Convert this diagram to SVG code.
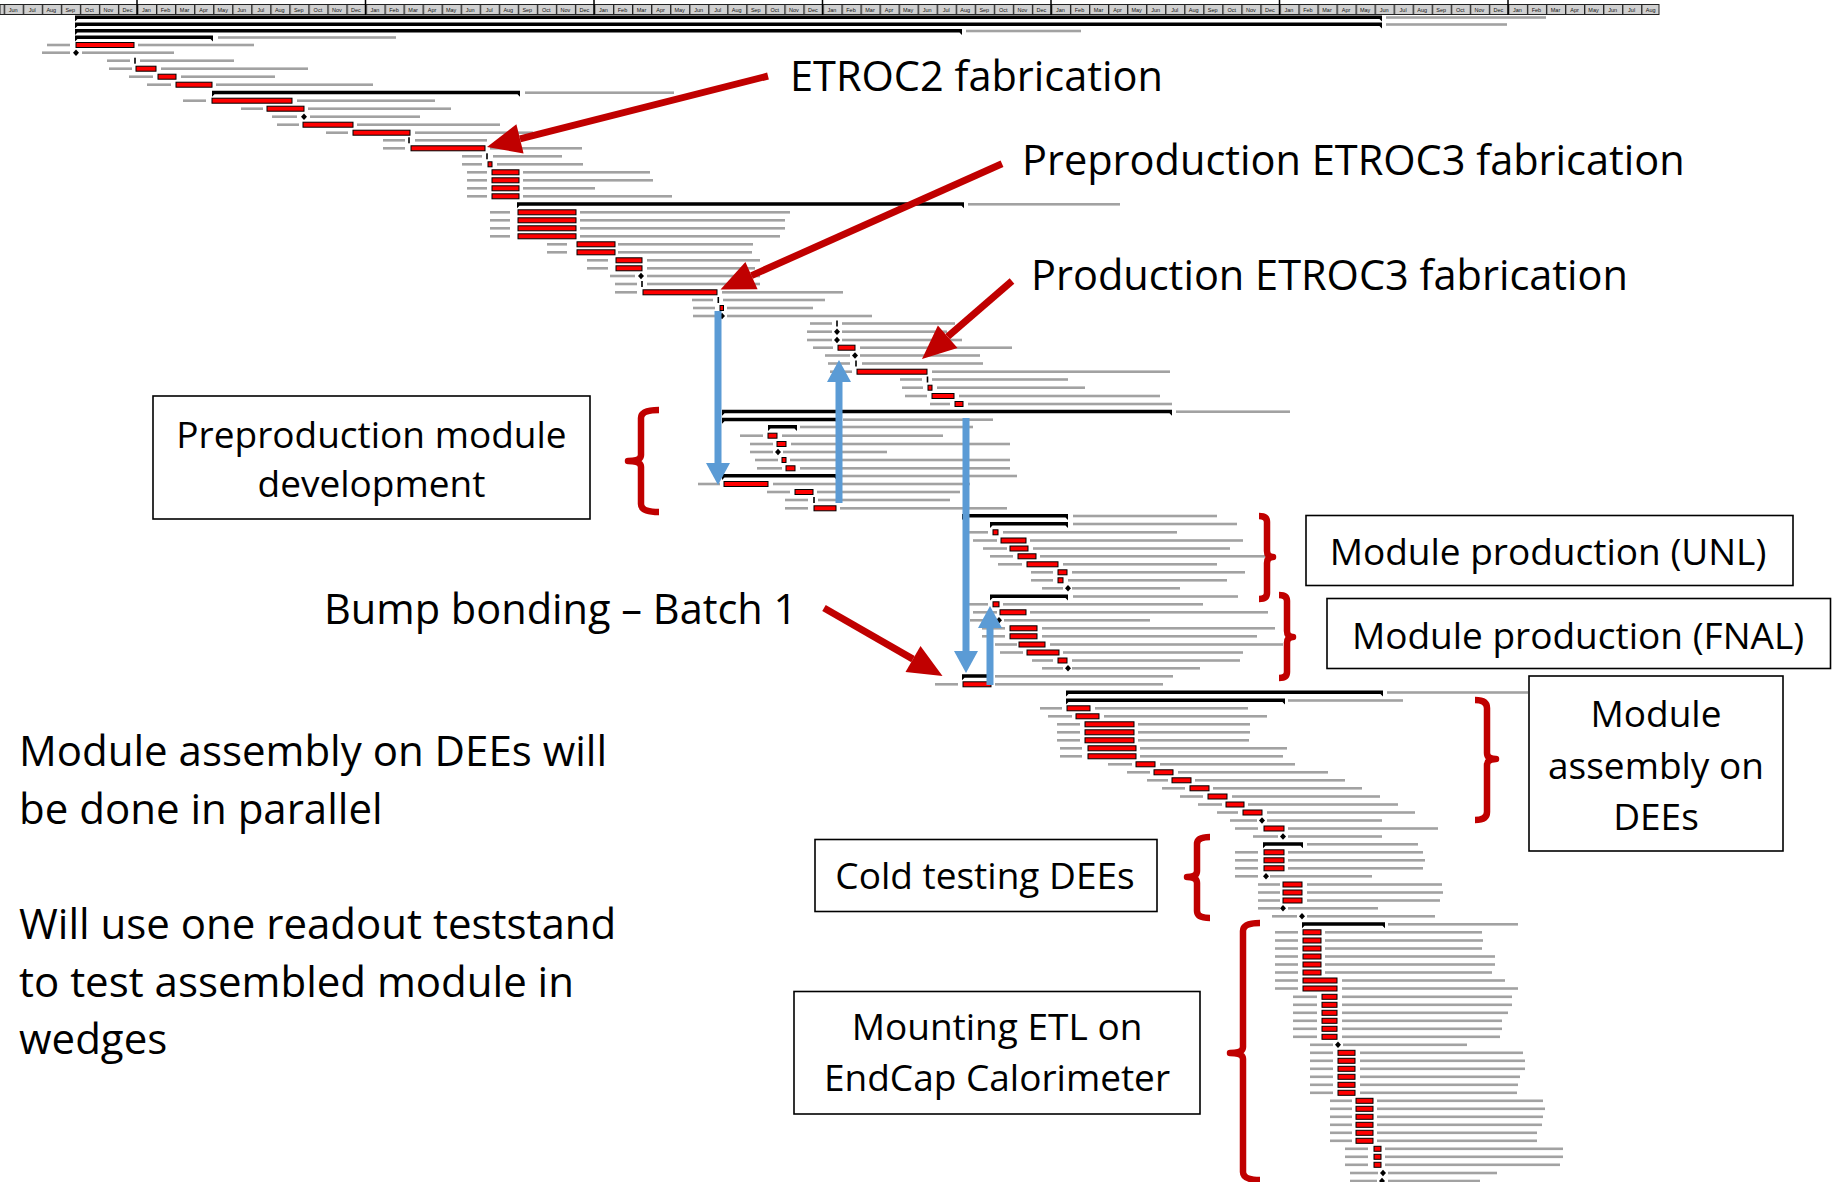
<svg xmlns="http://www.w3.org/2000/svg" xmlns:xlink="http://www.w3.org/1999/xlink" width="1833" height="1182" viewBox="0 0 1833 1182">
<defs>
<style>
.w{fill:#a2a2a2}
.t{fill:#ff0000;stroke:#000;stroke-width:1}
.k{fill:#000}
.s{fill:#000}
.box{fill:#fff;stroke:#000;stroke-width:1.6}
.big{font-family:"Open Sans","Noto Sans","DejaVu Sans",sans-serif;font-size:41.5px;fill:#000}
.note{font-family:"Open Sans","Noto Sans","DejaVu Sans",sans-serif;font-size:42px;fill:#000}
.mid{font-family:"Open Sans","Noto Sans","DejaVu Sans",sans-serif;font-size:37px;fill:#000}
.mo{font-family:"Liberation Sans",Arial,sans-serif;font-size:5.5px;fill:#111;text-anchor:middle}
.ar{stroke:#c00000;stroke-width:7;fill:none}
.ah{fill:#c00000}
.br{stroke:#c00000;stroke-width:6.5;fill:none;stroke-linejoin:round}
.bl{fill:#5b9bd5}
</style>
<pattern id="mcell" patternUnits="userSpaceOnUse" x="3.7" y="0" width="19.04" height="20">
<rect width="19.04" height="20" fill="#d0d0d0"/>
<rect width="1.3" height="20" fill="#222"/>
</pattern>
<path id="ms" d="M0 -3.3 L3 0 L0 3.3 L-3 0 Z" fill="#000"/>
</defs>
<rect width="1833" height="1182" fill="#fff"/>

<!-- timescale: months band with year dividers -->
<g id="timescale">
<rect x="0" y="4.5" width="1659" height="10" fill="url(#mcell)" stroke="#222" stroke-width="1"/>
<path d="M137 0V15M365.5 0V15M594 0V15M822.5 0V15M1051 0V15M1279.5 0V15M1508 0V15" stroke="#000" stroke-width="1.5"/>
<text class="mo" y="11.5"><tspan x="13.2">Jun</tspan><tspan x="32.3">Jul</tspan><tspan x="51.3">Aug</tspan><tspan x="70.3">Sep</tspan><tspan x="89.4">Oct</tspan><tspan x="108.4">Nov</tspan><tspan x="127.5">Dec</tspan><tspan x="146.5">Jan</tspan><tspan x="165.5">Feb</tspan><tspan x="184.6">Mar</tspan><tspan x="203.6">Apr</tspan><tspan x="222.7">May</tspan><tspan x="241.7">Jun</tspan><tspan x="260.7">Jul</tspan><tspan x="279.8">Aug</tspan><tspan x="298.8">Sep</tspan><tspan x="317.9">Oct</tspan><tspan x="336.9">Nov</tspan><tspan x="355.9">Dec</tspan><tspan x="375">Jan</tspan><tspan x="394">Feb</tspan><tspan x="413.1">Mar</tspan><tspan x="432.1">Apr</tspan><tspan x="451.1">May</tspan><tspan x="470.2">Jun</tspan><tspan x="489.2">Jul</tspan><tspan x="508.3">Aug</tspan><tspan x="527.3">Sep</tspan><tspan x="546.3">Oct</tspan><tspan x="565.4">Nov</tspan><tspan x="584.4">Dec</tspan><tspan x="603.5">Jan</tspan><tspan x="622.5">Feb</tspan><tspan x="641.5">Mar</tspan><tspan x="660.6">Apr</tspan><tspan x="679.6">May</tspan><tspan x="698.7">Jun</tspan><tspan x="717.7">Jul</tspan><tspan x="736.7">Aug</tspan><tspan x="755.8">Sep</tspan><tspan x="774.8">Oct</tspan><tspan x="793.9">Nov</tspan><tspan x="812.9">Dec</tspan><tspan x="831.9">Jan</tspan><tspan x="851">Feb</tspan><tspan x="870">Mar</tspan><tspan x="889.1">Apr</tspan><tspan x="908.1">May</tspan><tspan x="927.1">Jun</tspan><tspan x="946.2">Jul</tspan><tspan x="965.2">Aug</tspan><tspan x="984.3">Sep</tspan><tspan x="1003.3">Oct</tspan><tspan x="1022.3">Nov</tspan><tspan x="1041.4">Dec</tspan><tspan x="1060.4">Jan</tspan><tspan x="1079.5">Feb</tspan><tspan x="1098.5">Mar</tspan><tspan x="1117.5">Apr</tspan><tspan x="1136.6">May</tspan><tspan x="1155.6">Jun</tspan><tspan x="1174.7">Jul</tspan><tspan x="1193.7">Aug</tspan><tspan x="1212.7">Sep</tspan><tspan x="1231.8">Oct</tspan><tspan x="1250.8">Nov</tspan><tspan x="1269.9">Dec</tspan><tspan x="1288.9">Jan</tspan><tspan x="1307.9">Feb</tspan><tspan x="1327">Mar</tspan><tspan x="1346">Apr</tspan><tspan x="1365.1">May</tspan><tspan x="1384.1">Jun</tspan><tspan x="1403.1">Jul</tspan><tspan x="1422.2">Aug</tspan><tspan x="1441.2">Sep</tspan><tspan x="1460.3">Oct</tspan><tspan x="1479.3">Nov</tspan><tspan x="1498.3">Dec</tspan><tspan x="1517.4">Jan</tspan><tspan x="1536.4">Feb</tspan><tspan x="1555.5">Mar</tspan><tspan x="1574.5">Apr</tspan><tspan x="1593.5">May</tspan><tspan x="1612.6">Jun</tspan><tspan x="1631.6">Jul</tspan><tspan x="1650.7">Aug</tspan></text>
</g>

<!-- schedule rows: date label, bar / milestone, task label -->
<g id="schedule">
<g id="sA" transform="translate(0 17.5)"><path class="s" d="M75 -2H1382V4L1379.5 1.5H77.5L75 4Z"/><rect class="w" x="1386" y="-1.3" width="160" height="2.6"/></g>
<g id="sB" transform="translate(0 24.5)"><path class="s" d="M75 -2H1382V4L1379.5 1.5H77.5L75 4Z"/><rect class="w" x="1386" y="-1.3" width="121" height="2.6"/></g>
<g id="sC" transform="translate(0 31)"><path class="s" d="M75 -2H962V4L959.5 1.5H77.5L75 4Z"/><rect class="w" x="966" y="-1.3" width="115" height="2.6"/></g>
<g id="sD" transform="translate(0 37.5)"><path class="s" d="M75 -2H213V4L210.5 1.5H77.5L75 4Z"/><rect class="w" x="218" y="-1.3" width="178" height="2.6"/></g>

<g id="r01" transform="translate(0 45)"><rect class="w" x="47" y="-1.3" width="23" height="2.6"/><rect class="t" x="76" y="-2.5" width="58" height="5"/><rect class="w" x="138" y="-1.3" width="116" height="2.6"/></g>
<g id="r02" transform="translate(0 52.7)"><rect class="w" x="42" y="-1.3" width="28" height="2.6"/><use href="#ms" x="76" y="0"/><rect class="w" x="82" y="-1.3" width="92" height="2.6"/></g>
<g id="r03" transform="translate(0 60.7)"><rect class="w" x="107" y="-1.3" width="23" height="2.6"/><rect class="k" x="134.2" y="-3" width="1.6" height="6"/><rect class="w" x="140" y="-1.3" width="94" height="2.6"/></g>
<g id="r04" transform="translate(0 68.7)"><rect class="w" x="109" y="-1.3" width="23" height="2.6"/><rect class="t" x="136" y="-2.5" width="20" height="5"/><rect class="w" x="161" y="-1.3" width="147" height="2.6"/></g>
<g id="r05" transform="translate(0 76.7)"><rect class="w" x="129" y="-1.3" width="24" height="2.6"/><rect class="t" x="158" y="-2.5" width="18" height="5"/><rect class="w" x="181" y="-1.3" width="94" height="2.6"/></g>
<g id="r06" transform="translate(0 84.7)"><rect class="w" x="147" y="-1.3" width="24" height="2.6"/><rect class="t" x="176" y="-2.5" width="36" height="5"/><rect class="w" x="216" y="-1.3" width="157" height="2.6"/></g>
<g id="r07" transform="translate(0 92.7)"><path class="s" d="M212 -2H520V4L517.5 1.5H214.5L212 4Z"/><rect class="w" x="525" y="-1.3" width="149" height="2.6"/></g>
<g id="r08" transform="translate(0 100.7)"><rect class="w" x="183" y="-1.3" width="23" height="2.6"/><rect class="t" x="212" y="-2.5" width="80" height="5"/><rect class="w" x="297" y="-1.3" width="138" height="2.6"/></g>
<g id="r09" transform="translate(0 108.7)"><rect class="w" x="241" y="-1.3" width="22" height="2.6"/><rect class="t" x="267" y="-2.5" width="37" height="5"/><rect class="w" x="308" y="-1.3" width="143" height="2.6"/></g>
<g id="r10" transform="translate(0 116.7)"><rect class="w" x="272" y="-1.3" width="25" height="2.6"/><use href="#ms" x="304" y="0"/><rect class="w" x="310" y="-1.3" width="110" height="2.6"/></g>
<g id="r11" transform="translate(0 124.7)"><rect class="w" x="277" y="-1.3" width="22" height="2.6"/><rect class="t" x="303" y="-2.5" width="50" height="5"/><rect class="w" x="357" y="-1.3" width="143" height="2.6"/></g>
<g id="r12" transform="translate(0 132.7)"><rect class="w" x="326" y="-1.3" width="22" height="2.6"/><rect class="t" x="353" y="-2.5" width="57" height="5"/><rect class="w" x="415" y="-1.3" width="118" height="2.6"/></g>
<g id="r13" transform="translate(0 140.3)"><rect class="w" x="383" y="-1.3" width="22" height="2.6"/><rect class="k" x="408.2" y="-3" width="1.6" height="6"/><rect class="w" x="415" y="-1.3" width="72" height="2.6"/></g>
<g id="r14" transform="translate(0 148.3)"><rect class="w" x="383" y="-1.3" width="22" height="2.6"/><rect class="t" x="411" y="-2.5" width="74" height="5"/><rect class="w" x="490" y="-1.3" width="92" height="2.6"/></g>
<g id="r15" transform="translate(0 156.3)"><rect class="w" x="462" y="-1.3" width="20" height="2.6"/><rect class="k" x="486.2" y="-3" width="1.6" height="6"/><rect class="w" x="493" y="-1.3" width="69" height="2.6"/></g>
<g id="r16" transform="translate(0 164.3)"><rect class="w" x="462" y="-1.3" width="20" height="2.6"/><rect class="t" x="488" y="-2.5" width="4" height="5"/><rect class="w" x="497" y="-1.3" width="86" height="2.6"/></g>
<g id="r17" transform="translate(0 172.3)"><rect class="w" x="467" y="-1.3" width="20" height="2.6"/><rect class="t" x="492" y="-2.5" width="27" height="5"/><rect class="w" x="523" y="-1.3" width="127" height="2.6"/></g>
<g id="r18" transform="translate(0 180.3)"><rect class="w" x="467" y="-1.3" width="20" height="2.6"/><rect class="t" x="492" y="-2.5" width="27" height="5"/><rect class="w" x="523" y="-1.3" width="130" height="2.6"/></g>
<g id="r19" transform="translate(0 188.3)"><rect class="w" x="467" y="-1.3" width="20" height="2.6"/><rect class="t" x="492" y="-2.5" width="27" height="5"/><rect class="w" x="523" y="-1.3" width="72" height="2.6"/></g>
<g id="r20" transform="translate(0 196.3)"><rect class="w" x="467" y="-1.3" width="20" height="2.6"/><rect class="t" x="492" y="-2.5" width="27" height="5"/><rect class="w" x="523" y="-1.3" width="149" height="2.6"/></g>
<g id="r21" transform="translate(0 204.3)"><path class="s" d="M517 -2H964V4L961.5 1.5H519.5L517 4Z"/><rect class="w" x="968" y="-1.3" width="152" height="2.6"/></g>
<g id="r22" transform="translate(0 212.3)"><rect class="w" x="490" y="-1.3" width="20" height="2.6"/><rect class="t" x="518" y="-2.5" width="58" height="5"/><rect class="w" x="580" y="-1.3" width="210" height="2.6"/></g>
<g id="r23" transform="translate(0 220.3)"><rect class="w" x="490" y="-1.3" width="20" height="2.6"/><rect class="t" x="518" y="-2.5" width="58" height="5"/><rect class="w" x="580" y="-1.3" width="205" height="2.6"/></g>
<g id="r24" transform="translate(0 228.3)"><rect class="w" x="490" y="-1.3" width="20" height="2.6"/><rect class="t" x="518" y="-2.5" width="58" height="5"/><rect class="w" x="580" y="-1.3" width="205" height="2.6"/></g>
<g id="r25" transform="translate(0 236.3)"><rect class="w" x="490" y="-1.3" width="20" height="2.6"/><rect class="t" x="518" y="-2.5" width="58" height="5"/><rect class="w" x="580" y="-1.3" width="200" height="2.6"/></g>
<g id="r26" transform="translate(0 244.3)"><rect class="w" x="547" y="-1.3" width="20" height="2.6"/><rect class="t" x="577" y="-2.5" width="38" height="5"/><rect class="w" x="618" y="-1.3" width="135" height="2.6"/></g>
<g id="r27" transform="translate(0 252.3)"><rect class="w" x="547" y="-1.3" width="20" height="2.6"/><rect class="t" x="577" y="-2.5" width="38" height="5"/><rect class="w" x="618" y="-1.3" width="134" height="2.6"/></g>
<g id="r28" transform="translate(0 260.3)"><rect class="w" x="587" y="-1.3" width="21" height="2.6"/><rect class="t" x="616" y="-2.5" width="26" height="5"/><rect class="w" x="647" y="-1.3" width="113" height="2.6"/></g>
<g id="r29" transform="translate(0 268.3)"><rect class="w" x="587" y="-1.3" width="21" height="2.6"/><rect class="t" x="616" y="-2.5" width="26" height="5"/><rect class="w" x="647" y="-1.3" width="108" height="2.6"/></g>
<g id="r30" transform="translate(0 276)"><rect class="w" x="610" y="-1.3" width="25" height="2.6"/><use href="#ms" x="641" y="0"/><rect class="w" x="647" y="-1.3" width="113" height="2.6"/></g>
<g id="r31" transform="translate(0 284)"><rect class="w" x="615" y="-1.3" width="22" height="2.6"/><rect class="k" x="641.2" y="-3" width="1.6" height="6"/><rect class="w" x="647" y="-1.3" width="113" height="2.6"/></g>
<g id="r32" transform="translate(0 292.3)"><rect class="w" x="615" y="-1.3" width="22" height="2.6"/><rect class="t" x="643" y="-2.5" width="74" height="5"/><rect class="w" x="722" y="-1.3" width="121" height="2.6"/></g>
<g id="r33" transform="translate(0 300)"><rect class="w" x="692" y="-1.3" width="21" height="2.6"/><rect class="k" x="717.5" y="-3" width="1.6" height="6"/><rect class="w" x="723" y="-1.3" width="102" height="2.6"/></g>
<g id="r34" transform="translate(0 308)"><rect class="w" x="693" y="-1.3" width="22" height="2.6"/><rect class="t" x="720" y="-2.5" width="3.5" height="5"/><rect class="w" x="727" y="-1.3" width="86" height="2.6"/></g>
<g id="r35" transform="translate(0 316)"><rect class="w" x="693" y="-1.3" width="24" height="2.6"/><use href="#ms" x="722" y="0"/><rect class="w" x="727" y="-1.3" width="145" height="2.6"/></g>
<g id="r36" transform="translate(0 323.5)"><rect class="w" x="810" y="-1.3" width="22" height="2.6"/><rect class="k" x="836.2" y="-3" width="1.6" height="6"/><rect class="w" x="842" y="-1.3" width="113" height="2.6"/></g>
<g id="r37" transform="translate(0 331.7)"><rect class="w" x="807" y="-1.3" width="25" height="2.6"/><use href="#ms" x="837" y="0"/><rect class="w" x="842" y="-1.3" width="105" height="2.6"/></g>
<g id="r38" transform="translate(0 340)"><rect class="w" x="807" y="-1.3" width="25" height="2.6"/><use href="#ms" x="837" y="0"/><rect class="w" x="842" y="-1.3" width="120" height="2.6"/></g>
<g id="r39" transform="translate(0 347.7)"><rect class="w" x="813" y="-1.3" width="20" height="2.6"/><rect class="t" x="838" y="-2.5" width="17" height="5"/><rect class="w" x="860" y="-1.3" width="152" height="2.6"/></g>
<g id="r40" transform="translate(0 355.5)"><rect class="w" x="825" y="-1.3" width="25" height="2.6"/><use href="#ms" x="855" y="0"/><rect class="w" x="860" y="-1.3" width="120" height="2.6"/></g>
<g id="r41" transform="translate(0 363.5)"><rect class="w" x="828" y="-1.3" width="22" height="2.6"/><rect class="k" x="855.2" y="-3" width="1.6" height="6"/><rect class="w" x="862" y="-1.3" width="121" height="2.6"/></g>
<g id="r42" transform="translate(0 371.7)"><rect class="w" x="830" y="-1.3" width="22" height="2.6"/><rect class="t" x="857" y="-2.5" width="70" height="5"/><rect class="w" x="932" y="-1.3" width="238" height="2.6"/></g>
<g id="r43" transform="translate(0 379.5)"><rect class="w" x="900" y="-1.3" width="22" height="2.6"/><rect class="k" x="926.7" y="-3" width="1.6" height="6"/><rect class="w" x="932" y="-1.3" width="136" height="2.6"/></g>
<g id="r44" transform="translate(0 387.7)"><rect class="w" x="902" y="-1.3" width="21" height="2.6"/><rect class="t" x="928" y="-2.5" width="4" height="5"/><rect class="w" x="937" y="-1.3" width="148" height="2.6"/></g>
<g id="r45" transform="translate(0 396)"><rect class="w" x="905" y="-1.3" width="22" height="2.6"/><rect class="t" x="932" y="-2.5" width="22" height="5"/><rect class="w" x="959" y="-1.3" width="201" height="2.6"/></g>
<g id="r46" transform="translate(0 404)"><rect class="w" x="930" y="-1.3" width="20" height="2.6"/><rect class="t" x="955" y="-2.5" width="8" height="5"/><rect class="w" x="968" y="-1.3" width="204" height="2.6"/></g>
<g id="r47" transform="translate(0 411.7)"><path class="s" d="M722 -2H1172V4L1169.5 1.5H724.5L722 4Z"/><rect class="w" x="1176" y="-1.3" width="114" height="2.6"/></g>
<g id="r48" transform="translate(0 419.7)"><path class="s" d="M722 -2H838V4L835.5 1.5H724.5L722 4Z"/><rect class="w" x="843" y="-1.3" width="150" height="2.6"/></g>
<g id="r49" transform="translate(0 427)"><path class="s" d="M768 -2H797V4L794.5 1.5H770.5L768 4Z"/><rect class="w" x="800" y="-1.3" width="173" height="2.6"/></g>
<g id="r50" transform="translate(0 435.7)"><rect class="w" x="740" y="-1.3" width="23" height="2.6"/><rect class="t" x="768" y="-2.5" width="9" height="5"/><rect class="w" x="782" y="-1.3" width="161" height="2.6"/></g>
<g id="r51" transform="translate(0 444)"><rect class="w" x="750" y="-1.3" width="23" height="2.6"/><rect class="t" x="777" y="-2.5" width="9" height="5"/><rect class="w" x="791" y="-1.3" width="219" height="2.6"/></g>
<g id="r52" transform="translate(0 452)"><rect class="w" x="750" y="-1.3" width="23" height="2.6"/><use href="#ms" x="778" y="0"/><rect class="w" x="783" y="-1.3" width="104" height="2.6"/></g>
<g id="r53" transform="translate(0 460)"><rect class="w" x="755" y="-1.3" width="23" height="2.6"/><rect class="t" x="782" y="-2.5" width="4" height="5"/><rect class="w" x="790" y="-1.3" width="220" height="2.6"/></g>
<g id="r54" transform="translate(0 468.3)"><rect class="w" x="757" y="-1.3" width="25" height="2.6"/><rect class="t" x="786" y="-2.5" width="9" height="5"/><rect class="w" x="800" y="-1.3" width="210" height="2.6"/></g>
<g id="r55" transform="translate(0 476)"><path class="s" d="M722 -2H837V4L834.5 1.5H724.5L722 4Z"/><rect class="w" x="842" y="-1.3" width="175" height="2.6"/></g>
<g id="r56" transform="translate(0 484)"><rect class="w" x="698" y="-1.3" width="22" height="2.6"/><rect class="t" x="724" y="-2.5" width="44" height="5"/><rect class="w" x="773" y="-1.3" width="197" height="2.6"/></g>
<g id="r57" transform="translate(0 492)"><rect class="w" x="767" y="-1.3" width="23" height="2.6"/><rect class="t" x="795" y="-2.5" width="18" height="5"/><rect class="w" x="817" y="-1.3" width="143" height="2.6"/></g>
<g id="r58" transform="translate(0 500)"><rect class="w" x="785" y="-1.3" width="23" height="2.6"/><rect class="k" x="813.2" y="-3" width="1.6" height="6"/><rect class="w" x="818" y="-1.3" width="132" height="2.6"/></g>
<g id="r59" transform="translate(0 508.3)"><rect class="w" x="785" y="-1.3" width="23" height="2.6"/><rect class="t" x="814" y="-2.5" width="22" height="5"/><rect class="w" x="840" y="-1.3" width="167" height="2.6"/></g>
<g id="r60" transform="translate(0 516)"><path class="s" d="M962 -2H1068V4L1065.5 1.5H964.5L962 4Z"/><rect class="w" x="1073" y="-1.3" width="144" height="2.6"/></g>
<g id="r61" transform="translate(0 524)"><path class="s" d="M990 -2H1068V4L1065.5 1.5H992.5L990 4Z"/><rect class="w" x="1073" y="-1.3" width="164" height="2.6"/></g>
<g id="r62" transform="translate(0 532.3)"><rect class="w" x="965" y="-1.3" width="23" height="2.6"/><rect class="t" x="993" y="-2.5" width="5" height="5"/><rect class="w" x="1003" y="-1.3" width="174" height="2.6"/></g>
<g id="r63" transform="translate(0 540.5)"><rect class="w" x="973" y="-1.3" width="24" height="2.6"/><rect class="t" x="1001" y="-2.5" width="25" height="5"/><rect class="w" x="1030" y="-1.3" width="213" height="2.6"/></g>
<g id="r64" transform="translate(0 548.5)"><rect class="w" x="983" y="-1.3" width="24" height="2.6"/><rect class="t" x="1010" y="-2.5" width="18" height="5"/><rect class="w" x="1033" y="-1.3" width="197" height="2.6"/></g>
<g id="r65" transform="translate(0 556.3)"><rect class="w" x="990" y="-1.3" width="23" height="2.6"/><rect class="t" x="1018" y="-2.5" width="18" height="5"/><rect class="w" x="1040" y="-1.3" width="225" height="2.6"/></g>
<g id="r66" transform="translate(0 564.3)"><rect class="w" x="998" y="-1.3" width="24" height="2.6"/><rect class="t" x="1027" y="-2.5" width="31" height="5"/><rect class="w" x="1063" y="-1.3" width="154" height="2.6"/></g>
<g id="r67" transform="translate(0 572.3)"><rect class="w" x="1031" y="-1.3" width="22" height="2.6"/><rect class="t" x="1058" y="-2.5" width="9" height="5"/><rect class="w" x="1072" y="-1.3" width="173" height="2.6"/></g>
<g id="r68" transform="translate(0 580.3)"><rect class="w" x="1031" y="-1.3" width="22" height="2.6"/><rect class="t" x="1058" y="-2.5" width="5" height="5"/><rect class="w" x="1068" y="-1.3" width="159" height="2.6"/></g>
<g id="r69" transform="translate(0 588.3)"><rect class="w" x="1042" y="-1.3" width="21" height="2.6"/><use href="#ms" x="1068" y="0"/><rect class="w" x="1072" y="-1.3" width="108" height="2.6"/></g>
<g id="r70" transform="translate(0 596.5)"><path class="s" d="M990 -2H1068V4L1065.5 1.5H992.5L990 4Z"/><rect class="w" x="1073" y="-1.3" width="165" height="2.6"/></g>
<g id="r71" transform="translate(0 604.3)"><rect class="w" x="965" y="-1.3" width="23" height="2.6"/><rect class="t" x="993" y="-2.5" width="6" height="5"/><rect class="w" x="1003" y="-1.3" width="200" height="2.6"/></g>
<g id="r72" transform="translate(0 612.3)"><rect class="w" x="973" y="-1.3" width="24" height="2.6"/><rect class="t" x="1000" y="-2.5" width="26" height="5"/><rect class="w" x="1030" y="-1.3" width="238" height="2.6"/></g>
<g id="r73" transform="translate(0 620.3)"><rect class="w" x="970" y="-1.3" width="24" height="2.6"/><use href="#ms" x="999" y="0"/><rect class="w" x="1004" y="-1.3" width="146" height="2.6"/></g>
<g id="r74" transform="translate(0 628.3)"><rect class="w" x="982" y="-1.3" width="23" height="2.6"/><rect class="t" x="1010" y="-2.5" width="27" height="5"/><rect class="w" x="1042" y="-1.3" width="233" height="2.6"/></g>
<g id="r75" transform="translate(0 636.3)"><rect class="w" x="982" y="-1.3" width="23" height="2.6"/><rect class="t" x="1010" y="-2.5" width="27" height="5"/><rect class="w" x="1042" y="-1.3" width="215" height="2.6"/></g>
<g id="r76" transform="translate(0 644.5)"><rect class="w" x="995" y="-1.3" width="22" height="2.6"/><rect class="t" x="1019" y="-2.5" width="26" height="5"/><rect class="w" x="1050" y="-1.3" width="233" height="2.6"/></g>
<g id="r77" transform="translate(0 652.5)"><rect class="w" x="1000" y="-1.3" width="23" height="2.6"/><rect class="t" x="1027" y="-2.5" width="32" height="5"/><rect class="w" x="1063" y="-1.3" width="180" height="2.6"/></g>
<g id="r78" transform="translate(0 660.5)"><rect class="w" x="1032" y="-1.3" width="21" height="2.6"/><rect class="t" x="1058" y="-2.5" width="9" height="5"/><rect class="w" x="1072" y="-1.3" width="168" height="2.6"/></g>
<g id="r79" transform="translate(0 668.3)"><rect class="w" x="1042" y="-1.3" width="21" height="2.6"/><use href="#ms" x="1068" y="0"/><rect class="w" x="1072" y="-1.3" width="128" height="2.6"/></g>
<g id="r80" transform="translate(0 676.3)"><path class="s" d="M962 -2H992V4L989.5 1.5H964.5L962 4Z"/><rect class="w" x="995" y="-1.3" width="178" height="2.6"/></g>
<g id="r81" transform="translate(0 684.3)"><rect class="w" x="935" y="-1.3" width="23" height="2.6"/><rect class="t" x="963" y="-2.5" width="28" height="5"/><rect class="w" x="995" y="-1.3" width="168" height="2.6"/></g>
<g id="r82" transform="translate(0 692.5)"><path class="s" d="M1066 -2H1383V4L1380.5 1.5H1068.5L1066 4Z"/><rect class="w" x="1387" y="-1.3" width="141" height="2.6"/></g>
<g id="r83" transform="translate(0 700.5)"><path class="s" d="M1066 -2H1285V4L1282.5 1.5H1068.5L1066 4Z"/><rect class="w" x="1288" y="-1.3" width="115" height="2.6"/></g>
<g id="r84" transform="translate(0 708.3)"><rect class="w" x="1040" y="-1.3" width="22" height="2.6"/><rect class="t" x="1067" y="-2.5" width="23" height="5"/><rect class="w" x="1095" y="-1.3" width="153" height="2.6"/></g>
<g id="r85" transform="translate(0 716.3)"><rect class="w" x="1048" y="-1.3" width="24" height="2.6"/><rect class="t" x="1076" y="-2.5" width="23" height="5"/><rect class="w" x="1104" y="-1.3" width="163" height="2.6"/></g>
<g id="r86" transform="translate(0 724.3)"><rect class="w" x="1057" y="-1.3" width="23" height="2.6"/><rect class="t" x="1085" y="-2.5" width="49" height="5"/><rect class="w" x="1138" y="-1.3" width="112" height="2.6"/></g>
<g id="r87" transform="translate(0 732.3)"><rect class="w" x="1057" y="-1.3" width="23" height="2.6"/><rect class="t" x="1085" y="-2.5" width="49" height="5"/><rect class="w" x="1138" y="-1.3" width="112" height="2.6"/></g>
<g id="r88" transform="translate(0 740.3)"><rect class="w" x="1057" y="-1.3" width="23" height="2.6"/><rect class="t" x="1085" y="-2.5" width="49" height="5"/><rect class="w" x="1138" y="-1.3" width="111" height="2.6"/></g>
<g id="r89" transform="translate(0 748.3)"><rect class="w" x="1060" y="-1.3" width="22" height="2.6"/><rect class="t" x="1088" y="-2.5" width="48" height="5"/><rect class="w" x="1140" y="-1.3" width="147" height="2.6"/></g>
<g id="r90" transform="translate(0 756.3)"><rect class="w" x="1060" y="-1.3" width="22" height="2.6"/><rect class="t" x="1088" y="-2.5" width="48" height="5"/><rect class="w" x="1140" y="-1.3" width="143" height="2.6"/></g>
<g id="r91" transform="translate(0 764.3)"><rect class="w" x="1108" y="-1.3" width="24" height="2.6"/><rect class="t" x="1136" y="-2.5" width="19" height="5"/><rect class="w" x="1160" y="-1.3" width="135" height="2.6"/></g>
<g id="r92" transform="translate(0 772.3)"><rect class="w" x="1127" y="-1.3" width="23" height="2.6"/><rect class="t" x="1154" y="-2.5" width="19" height="5"/><rect class="w" x="1178" y="-1.3" width="150" height="2.6"/></g>
<g id="r93" transform="translate(0 780.3)"><rect class="w" x="1147" y="-1.3" width="21" height="2.6"/><rect class="t" x="1172" y="-2.5" width="19" height="5"/><rect class="w" x="1195" y="-1.3" width="150" height="2.6"/></g>
<g id="r94" transform="translate(0 788.3)"><rect class="w" x="1162" y="-1.3" width="23" height="2.6"/><rect class="t" x="1190" y="-2.5" width="19" height="5"/><rect class="w" x="1213" y="-1.3" width="149" height="2.6"/></g>
<g id="r95" transform="translate(0 796.5)"><rect class="w" x="1180" y="-1.3" width="23" height="2.6"/><rect class="t" x="1208" y="-2.5" width="19" height="5"/><rect class="w" x="1232" y="-1.3" width="148" height="2.6"/></g>
<g id="r96" transform="translate(0 804.5)"><rect class="w" x="1198" y="-1.3" width="24" height="2.6"/><rect class="t" x="1226" y="-2.5" width="18" height="5"/><rect class="w" x="1248" y="-1.3" width="150" height="2.6"/></g>
<g id="r97" transform="translate(0 812.5)"><rect class="w" x="1217" y="-1.3" width="21" height="2.6"/><rect class="t" x="1243" y="-2.5" width="19" height="5"/><rect class="w" x="1267" y="-1.3" width="148" height="2.6"/></g>
<g id="r98" transform="translate(0 820.5)"><rect class="w" x="1230" y="-1.3" width="27" height="2.6"/><use href="#ms" x="1262" y="0"/><rect class="w" x="1267" y="-1.3" width="115" height="2.6"/></g>
<g id="r99" transform="translate(0 828.5)"><rect class="w" x="1235" y="-1.3" width="23" height="2.6"/><rect class="t" x="1264" y="-2.5" width="20" height="5"/><rect class="w" x="1288" y="-1.3" width="150" height="2.6"/></g>
<g id="r100" transform="translate(0 836.5)"><rect class="w" x="1253" y="-1.3" width="25" height="2.6"/><use href="#ms" x="1283" y="0"/><rect class="w" x="1288" y="-1.3" width="94" height="2.6"/></g>
<g id="r101" transform="translate(0 844.3)"><path class="s" d="M1263 -2H1303V4L1300.5 1.5H1265.5L1263 4Z"/><rect class="w" x="1307" y="-1.3" width="111" height="2.6"/></g>
<g id="r102" transform="translate(0 852.3)"><rect class="w" x="1235" y="-1.3" width="23" height="2.6"/><rect class="t" x="1264" y="-2.5" width="20" height="5"/><rect class="w" x="1288" y="-1.3" width="135" height="2.6"/></g>
<g id="r103" transform="translate(0 860.3)"><rect class="w" x="1235" y="-1.3" width="23" height="2.6"/><rect class="t" x="1264" y="-2.5" width="20" height="5"/><rect class="w" x="1288" y="-1.3" width="137" height="2.6"/></g>
<g id="r104" transform="translate(0 868.3)"><rect class="w" x="1235" y="-1.3" width="23" height="2.6"/><rect class="t" x="1264" y="-2.5" width="20" height="5"/><rect class="w" x="1288" y="-1.3" width="135" height="2.6"/></g>
<g id="r105" transform="translate(0 876.3)"><rect class="w" x="1235" y="-1.3" width="23" height="2.6"/><use href="#ms" x="1266" y="0"/><rect class="w" x="1270" y="-1.3" width="102" height="2.6"/></g>
<g id="r106" transform="translate(0 884.5)"><rect class="w" x="1258" y="-1.3" width="22" height="2.6"/><rect class="t" x="1283" y="-2.5" width="19" height="5"/><rect class="w" x="1307" y="-1.3" width="135" height="2.6"/></g>
<g id="r107" transform="translate(0 892.5)"><rect class="w" x="1258" y="-1.3" width="22" height="2.6"/><rect class="t" x="1283" y="-2.5" width="19" height="5"/><rect class="w" x="1307" y="-1.3" width="136" height="2.6"/></g>
<g id="r108" transform="translate(0 900.5)"><rect class="w" x="1258" y="-1.3" width="22" height="2.6"/><rect class="t" x="1283" y="-2.5" width="19" height="5"/><rect class="w" x="1307" y="-1.3" width="133" height="2.6"/></g>
<g id="r109" transform="translate(0 908.3)"><rect class="w" x="1258" y="-1.3" width="22" height="2.6"/><use href="#ms" x="1283" y="0"/><rect class="w" x="1288" y="-1.3" width="90" height="2.6"/></g>
<g id="r110" transform="translate(0 916.3)"><rect class="w" x="1272" y="-1.3" width="25" height="2.6"/><use href="#ms" x="1302" y="0"/><rect class="w" x="1307" y="-1.3" width="128" height="2.6"/></g>
<g id="r111" transform="translate(0 924.3)"><path class="s" d="M1302 -2H1385V4L1382.5 1.5H1304.5L1302 4Z"/><rect class="w" x="1388" y="-1.3" width="130" height="2.6"/></g>
<g id="r112" transform="translate(0 932.3)"><rect class="w" x="1275" y="-1.3" width="23" height="2.6"/><rect class="t" x="1303" y="-2.5" width="18" height="5"/><rect class="w" x="1325" y="-1.3" width="157" height="2.6"/></g>
<g id="r113" transform="translate(0 940.5)"><rect class="w" x="1275" y="-1.3" width="23" height="2.6"/><rect class="t" x="1303" y="-2.5" width="18" height="5"/><rect class="w" x="1325" y="-1.3" width="158" height="2.6"/></g>
<g id="r114" transform="translate(0 948.5)"><rect class="w" x="1275" y="-1.3" width="23" height="2.6"/><rect class="t" x="1303" y="-2.5" width="18" height="5"/><rect class="w" x="1325" y="-1.3" width="157" height="2.6"/></g>
<g id="r115" transform="translate(0 956.5)"><rect class="w" x="1275" y="-1.3" width="23" height="2.6"/><rect class="t" x="1303" y="-2.5" width="18" height="5"/><rect class="w" x="1325" y="-1.3" width="170" height="2.6"/></g>
<g id="r116" transform="translate(0 964.5)"><rect class="w" x="1275" y="-1.3" width="23" height="2.6"/><rect class="t" x="1303" y="-2.5" width="18" height="5"/><rect class="w" x="1325" y="-1.3" width="170" height="2.6"/></g>
<g id="r117" transform="translate(0 972.5)"><rect class="w" x="1275" y="-1.3" width="23" height="2.6"/><rect class="t" x="1303" y="-2.5" width="18" height="5"/><rect class="w" x="1325" y="-1.3" width="167" height="2.6"/></g>
<g id="r118" transform="translate(0 980.5)"><rect class="w" x="1275" y="-1.3" width="23" height="2.6"/><rect class="t" x="1303" y="-2.5" width="34" height="5"/><rect class="w" x="1342" y="-1.3" width="163" height="2.6"/></g>
<g id="r119" transform="translate(0 988.5)"><rect class="w" x="1275" y="-1.3" width="23" height="2.6"/><rect class="t" x="1303" y="-2.5" width="34" height="5"/><rect class="w" x="1342" y="-1.3" width="176" height="2.6"/></g>
<g id="r120" transform="translate(0 996.8)"><rect class="w" x="1293" y="-1.3" width="24" height="2.6"/><rect class="t" x="1322" y="-2.5" width="15" height="5"/><rect class="w" x="1342" y="-1.3" width="170" height="2.6"/></g>
<g id="r121" transform="translate(0 1004.8)"><rect class="w" x="1293" y="-1.3" width="24" height="2.6"/><rect class="t" x="1322" y="-2.5" width="15" height="5"/><rect class="w" x="1342" y="-1.3" width="170" height="2.6"/></g>
<g id="r122" transform="translate(0 1012.8)"><rect class="w" x="1293" y="-1.3" width="24" height="2.6"/><rect class="t" x="1322" y="-2.5" width="15" height="5"/><rect class="w" x="1342" y="-1.3" width="166" height="2.6"/></g>
<g id="r123" transform="translate(0 1020.8)"><rect class="w" x="1293" y="-1.3" width="24" height="2.6"/><rect class="t" x="1322" y="-2.5" width="15" height="5"/><rect class="w" x="1342" y="-1.3" width="160" height="2.6"/></g>
<g id="r124" transform="translate(0 1028.8)"><rect class="w" x="1293" y="-1.3" width="24" height="2.6"/><rect class="t" x="1322" y="-2.5" width="15" height="5"/><rect class="w" x="1342" y="-1.3" width="160" height="2.6"/></g>
<g id="r125" transform="translate(0 1036.8)"><rect class="w" x="1293" y="-1.3" width="24" height="2.6"/><rect class="t" x="1322" y="-2.5" width="15" height="5"/><rect class="w" x="1342" y="-1.3" width="158" height="2.6"/></g>
<g id="r126" transform="translate(0 1044.8)"><rect class="w" x="1310" y="-1.3" width="23" height="2.6"/><use href="#ms" x="1338" y="0"/><rect class="w" x="1343" y="-1.3" width="124" height="2.6"/></g>
<g id="r127" transform="translate(0 1052.8)"><rect class="w" x="1310" y="-1.3" width="23" height="2.6"/><rect class="t" x="1338" y="-2.5" width="17" height="5"/><rect class="w" x="1360" y="-1.3" width="163" height="2.6"/></g>
<g id="r128" transform="translate(0 1060.8)"><rect class="w" x="1310" y="-1.3" width="23" height="2.6"/><rect class="t" x="1338" y="-2.5" width="17" height="5"/><rect class="w" x="1360" y="-1.3" width="165" height="2.6"/></g>
<g id="r129" transform="translate(0 1068.8)"><rect class="w" x="1310" y="-1.3" width="23" height="2.6"/><rect class="t" x="1338" y="-2.5" width="17" height="5"/><rect class="w" x="1360" y="-1.3" width="165" height="2.6"/></g>
<g id="r130" transform="translate(0 1076.8)"><rect class="w" x="1310" y="-1.3" width="23" height="2.6"/><rect class="t" x="1338" y="-2.5" width="17" height="5"/><rect class="w" x="1360" y="-1.3" width="160" height="2.6"/></g>
<g id="r131" transform="translate(0 1084.8)"><rect class="w" x="1310" y="-1.3" width="23" height="2.6"/><rect class="t" x="1338" y="-2.5" width="17" height="5"/><rect class="w" x="1360" y="-1.3" width="158" height="2.6"/></g>
<g id="r132" transform="translate(0 1092.8)"><rect class="w" x="1310" y="-1.3" width="23" height="2.6"/><rect class="t" x="1338" y="-2.5" width="17" height="5"/><rect class="w" x="1360" y="-1.3" width="157" height="2.6"/></g>
<g id="r133" transform="translate(0 1100.8)"><rect class="w" x="1330" y="-1.3" width="22" height="2.6"/><rect class="t" x="1356" y="-2.5" width="17" height="5"/><rect class="w" x="1377" y="-1.3" width="166" height="2.6"/></g>
<g id="r134" transform="translate(0 1108.8)"><rect class="w" x="1330" y="-1.3" width="22" height="2.6"/><rect class="t" x="1356" y="-2.5" width="17" height="5"/><rect class="w" x="1377" y="-1.3" width="168" height="2.6"/></g>
<g id="r135" transform="translate(0 1116.8)"><rect class="w" x="1330" y="-1.3" width="22" height="2.6"/><rect class="t" x="1356" y="-2.5" width="17" height="5"/><rect class="w" x="1377" y="-1.3" width="166" height="2.6"/></g>
<g id="r136" transform="translate(0 1124.8)"><rect class="w" x="1330" y="-1.3" width="22" height="2.6"/><rect class="t" x="1356" y="-2.5" width="17" height="5"/><rect class="w" x="1377" y="-1.3" width="165" height="2.6"/></g>
<g id="r137" transform="translate(0 1132.8)"><rect class="w" x="1330" y="-1.3" width="22" height="2.6"/><rect class="t" x="1356" y="-2.5" width="17" height="5"/><rect class="w" x="1377" y="-1.3" width="160" height="2.6"/></g>
<g id="r138" transform="translate(0 1140.8)"><rect class="w" x="1330" y="-1.3" width="22" height="2.6"/><rect class="t" x="1356" y="-2.5" width="17" height="5"/><rect class="w" x="1377" y="-1.3" width="160" height="2.6"/></g>
<g id="r139" transform="translate(0 1148.8)"><rect class="w" x="1345" y="-1.3" width="23" height="2.6"/><rect class="t" x="1374" y="-2.5" width="7" height="5"/><rect class="w" x="1385" y="-1.3" width="178" height="2.6"/></g>
<g id="r140" transform="translate(0 1156.8)"><rect class="w" x="1345" y="-1.3" width="23" height="2.6"/><rect class="t" x="1374" y="-2.5" width="7" height="5"/><rect class="w" x="1385" y="-1.3" width="178" height="2.6"/></g>
<g id="r141" transform="translate(0 1164.8)"><rect class="w" x="1345" y="-1.3" width="23" height="2.6"/><rect class="t" x="1374" y="-2.5" width="7" height="5"/><rect class="w" x="1385" y="-1.3" width="175" height="2.6"/></g>
<g id="r142" transform="translate(0 1173)"><rect class="w" x="1350" y="-1.3" width="28" height="2.6"/><use href="#ms" x="1383" y="0"/><rect class="w" x="1388" y="-1.3" width="109" height="2.6"/></g>
<g id="r143" transform="translate(0 1181)"><rect class="w" x="1350" y="-1.3" width="27" height="2.6"/><use href="#ms" x="1382" y="0"/><rect class="w" x="1388" y="-1.3" width="92" height="2.6"/></g>
</g>

<!-- braces grouping task ranges -->
<g id="braces">
<path class="br" d="M659 410Q641 410 641 418V455Q641 461 628 461Q641 461 641 467V504Q641 512 659 512"/>
<path class="br" d="M1259 516Q1267 516 1267 522V551Q1267 557 1273 557Q1267 557 1267 563V593Q1267 599 1259 599"/>
<path class="br" d="M1279 595Q1287 595 1287 601V631Q1287 637 1293 637Q1287 637 1287 643V672Q1287 678 1279 678"/>
<path class="br" d="M1475 700Q1487 700 1487 708V753Q1487 759 1496 759Q1487 759 1487 765V812Q1487 820 1475 820"/>
<path class="br" d="M1210 837Q1197 837 1197 844V871Q1197 877 1187 877Q1197 877 1197 883V911Q1197 918 1210 918"/>
<path class="br" d="M1260 923Q1243 923 1243 931V1047Q1243 1053 1230 1053Q1243 1053 1243 1059V1172Q1243 1180 1260 1180"/>
</g>

<!-- connectors: blue link arrows and red pointer arrows -->
<g id="connectors">
<rect class="bl" x="714.5" y="311" width="7" height="153"/><polygon class="bl" points="706,463 730,463 718,485"/>
<rect class="bl" x="835.5" y="381" width="7" height="122"/><polygon class="bl" points="827,382 851,382 839,360"/>
<rect class="bl" x="962.5" y="418" width="7" height="234"/><polygon class="bl" points="954,651 978,651 966,673"/>
<rect class="bl" x="986.5" y="627" width="7" height="58"/><polygon class="bl" points="978,628 1002,628 990,606"/>

<polyline class="ar" points="768,76 520,138.8"/><polygon class="ah" points="487,147 516.4,124.2 523.6,153.4"/>
<polyline class="ar" points="1002,163.7 751.5,275.6"/><polygon class="ah" points="720.5,289.5 745.4,261.9 757.6,289.3"/>
<polyline class="ar" points="1012,281 947.7,336.7"/><polygon class="ah" points="922,359 937.9,325.4 957.5,348"/>
<polyline class="ar" points="824,608 913,659.1"/><polygon class="ah" points="942.5,676 905.5,672.1 920.5,646.1"/>
</g>

<!-- callouts -->
<g id="c-etroc2"><text class="big" x="790" y="91">ETROC2 fabrication</text></g>
<g id="c-pre-etroc3"><text class="big" x="1022" y="175">Preproduction ETROC3 fabrication</text></g>
<g id="c-prod-etroc3"><text class="big" x="1031" y="290">Production ETROC3 fabrication</text></g>
<g id="c-bump"><text class="big" x="324" y="624">Bump bonding – Batch 1</text></g>

<g id="n-premodule"><rect class="box" x="153" y="396" width="437" height="123"/>
<text class="mid" text-anchor="middle" x="371.5" y="447.5">Preproduction module</text>
<text class="mid" text-anchor="middle" x="371.5" y="497">development</text></g>

<g id="n-unl"><rect class="box" x="1306" y="515.5" width="487" height="70"/>
<text class="mid" text-anchor="middle" x="1548" y="565">Module production (UNL)</text></g>

<g id="n-fnal"><rect class="box" x="1327" y="598.5" width="503.5" height="70"/>
<text class="mid" text-anchor="middle" x="1578" y="649">Module production (FNAL)</text></g>

<g id="n-dee"><rect class="box" x="1529" y="676" width="254" height="175"/>
<text class="mid" text-anchor="middle" x="1656" y="727">Module</text>
<text class="mid" text-anchor="middle" x="1656" y="778.5">assembly on</text>
<text class="mid" text-anchor="middle" x="1656" y="829.5">DEEs</text></g>

<g id="n-cold"><rect class="box" x="815" y="839.5" width="342" height="72"/>
<text class="mid" text-anchor="middle" x="985" y="889">Cold testing DEEs</text></g>

<g id="n-mount"><rect class="box" x="794" y="991.5" width="406" height="122.5"/>
<text class="mid" text-anchor="middle" x="997" y="1040">Mounting ETL on</text>
<text class="mid" text-anchor="middle" x="997" y="1091">EndCap Calorimeter</text></g>

<g id="notes">
<text class="note" x="19" y="766">Module assembly on DEEs will</text>
<text class="note" x="19" y="824">be done in parallel</text>
<text class="note" x="19" y="939">Will use one readout teststand</text>
<text class="note" x="19" y="997">to test assembled module in</text>
<text class="note" x="19" y="1054">wedges</text>
</g>
</svg>
